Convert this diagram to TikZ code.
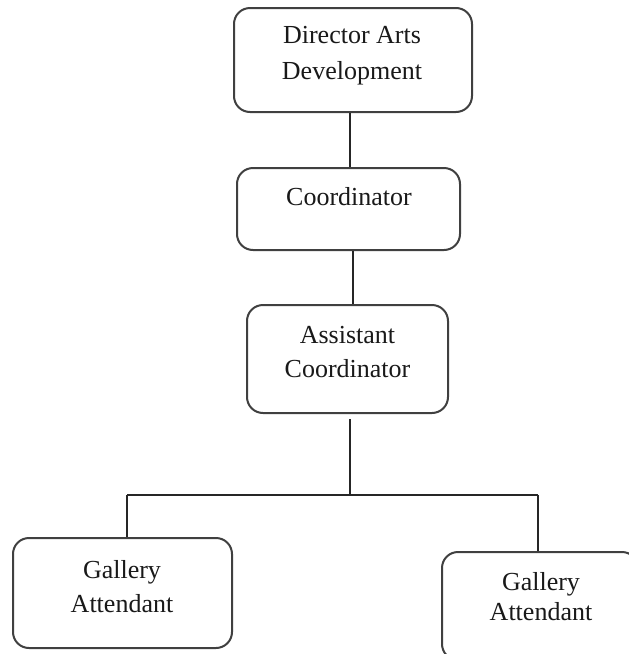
\documentclass[tikz,border=0pt]{standalone}
\usepackage{fontspec}
\setmainfont{Liberation Serif}
\begin{document}
\begin{tikzpicture}[x=1pt,y=-1pt,
  box/.style={draw=black!75, line width=2pt, rounded corners=16pt, inner sep=0pt, fill=white},
  txt/.style={inner sep=0pt, anchor=base, font=\fontsize{26}{30}\selectfont, text=black!90},
  conn/.style={draw=black!85, line width=1.8pt}]
\useasboundingbox (0,0) rectangle (629,654);
\clip (0,0) rectangle (629,654);
% boxes
\node[box, minimum width=238pt, minimum height=104pt] (b1) at (353,60) {};
\node[box, minimum width=223pt, minimum height=82pt] (b2) at (348.5,209) {};
\node[box, minimum width=201pt, minimum height=108pt] (b3) at (347.5,359) {};
\node[box, minimum width=219pt, minimum height=110pt] (b4) at (122.5,593) {};
\node[box, minimum width=196pt, minimum height=108pt] (b5) at (540,606) {};
% helper coordinates
\coordinate (c1) at (350,0);
\coordinate (c2) at (353,0);
\coordinate (c3) at (350,0);
\coordinate (j) at (350,495);
\coordinate (jl) at (127,495);
\coordinate (jr) at (538,495);
% connectors
\draw[conn] (b1.south -| c1) -- (b2.north -| c1);
\draw[conn] (b2.south -| c2) -- (b3.north -| c2);
\draw[conn] ([yshift=-5pt]b3.south -| c3) -- (j);
\draw[conn] (jl) -- (jr);
\draw[conn] (jl) -- (b4.north -| jl);
\draw[conn] (jr) -- (b5.north -| jr);
% texts
\node[txt] (t1a) at (352,43) {Director Arts};
\node[txt] (t1b) at (352,79) {Development};
\node[txt] (t2) at (349,205) {Coordinator};
\node[txt] (t3a) at (347.5,343) {Assistant};
\node[txt] (t3b) at (347.5,377) {Coordinator};
\node[txt] (t4a) at (122,578) {Gallery};
\node[txt] (t4b) at (122,612) {Attendant};
\node[txt] (t5a) at (541,590) {Gallery};
\node[txt] (t5b) at (541,620) {Attendant};
\end{tikzpicture}
\end{document}
